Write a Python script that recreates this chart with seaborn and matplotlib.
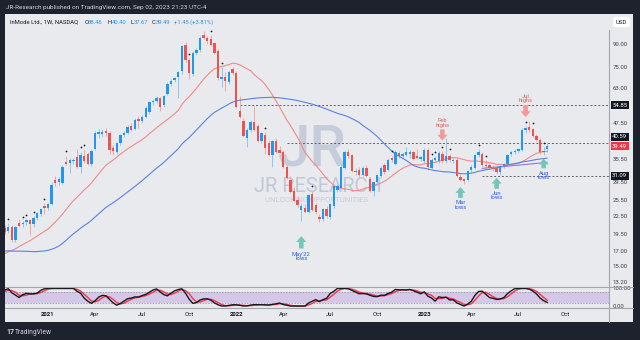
import matplotlib
matplotlib.use("Agg")
import matplotlib.pyplot as plt
from matplotlib.lines import Line2D
from matplotlib.patches import Rectangle
from matplotlib.ticker import NullLocator
import numpy as np
import pandas as pd
import seaborn as sns

# InMode (INMD) weekly bars, first visible bar = week of 2020-10-12
first_week = "2020-10-12"

opens = [20.4, 19.9, 20.6, 18.5, 21.3, 21.0, 21.5, 21.7, 21.0, 22.2, 22.9, 24.3, 24.0, 24.8, 30.0, 29.6,
         29.4, 34.8, 34.6, 35.0, 36.1, 33.4, 36.4, 37.0, 34.3, 38.5, 43.6, 43.6, 44.6, 43.9, 38.8, 37.6,
         40.6, 43.2, 43.9, 46.5, 45.3, 49.2, 48.4, 50.1, 52.0, 56.2, 57.0, 58.2, 54.8, 60.3, 65.2, 67.2,
         68.8, 72.5, 89.2, 79.0, 70.6, 84.0, 86.0, 96.8, 94.2, 93.7, 90.7, 85.0, 67.6, 68.8, 66.0, 73.3,
         71.2, 52.6, 48.5, 42.0, 45.1, 48.1, 46.5, 41.3, 43.2, 40.6, 36.8, 41.3, 38.4, 37.8, 33.4, 30.1,
         27.5, 25.6, 23.6, 24.0, 23.3, 26.8, 24.5, 22.3, 21.9, 23.8, 22.3, 24.4, 27.8, 28.2, 33.1, 37.8,
         36.9, 32.0, 32.7, 31.3, 33.1, 30.4, 27.5, 29.5, 31.0, 34.0, 32.7, 36.0, 34.3, 37.5, 36.6, 36.8,
         37.0, 37.6, 36.5, 35.6, 34.9, 38.4, 33.1, 35.4, 35.0, 37.2, 35.0, 36.6, 35.0, 35.4, 30.8, 30.2,
         30.1, 32.5, 33.1, 36.9, 37.2, 34.0, 33.8, 33.2, 33.0, 32.0, 33.6, 34.3, 37.0, 37.6, 38.0, 38.4,
         45.1, 46.0, 45.2, 42.9, 41.5, 37.6, 38.46]
highs = [20.9, 21.2, 20.9, 20.8, 22.0, 21.6, 21.9, 22.0, 22.4, 23.3, 24.0, 24.9, 25.0, 29.6, 31.0, 30.8,
         33.8, 36.6, 35.8, 35.9, 38.6, 37.8, 38.4, 37.6, 38.6, 44.6, 45.4, 45.2, 45.6, 44.5, 40.0, 40.9,
         43.6, 44.5, 46.8, 47.6, 49.6, 50.4, 50.8, 54.6, 56.8, 57.6, 59.0, 58.8, 59.6, 66.0, 67.6, 69.2,
         72.6, 89.6, 91.8, 80.2, 85.2, 86.8, 95.6, 99.6, 96.0, 96.4, 91.6, 86.2, 74.6, 71.6, 72.6, 74.6,
         72.4, 59.0, 49.6, 45.6, 48.6, 54.6, 47.2, 44.2, 44.2, 41.4, 41.6, 42.0, 39.6, 38.4, 34.0, 31.0,
         28.4, 26.4, 25.0, 24.8, 26.8, 27.6, 25.0, 22.8, 24.0, 24.4, 25.0, 28.8, 29.0, 33.8, 38.2, 38.6,
         37.2, 33.2, 33.4, 33.6, 33.8, 30.8, 29.8, 31.6, 33.6, 34.6, 35.8, 36.6, 38.2, 38.0, 37.6, 39.3,
         38.2, 38.0, 38.5, 36.6, 38.8, 38.8, 35.8, 36.4, 37.9, 38.0, 42.0, 37.2, 35.8, 35.8, 31.6, 30.6,
         32.6, 33.8, 37.2, 38.6, 37.8, 35.2, 34.6, 34.0, 33.6, 33.9, 34.6, 37.2, 38.0, 38.6, 39.0, 45.6,
         46.4, 48.3, 45.8, 43.4, 42.0, 39.2, 40.40]
lows = [19.4, 19.6, 18.2, 18.3, 20.5, 20.5, 20.9, 19.3, 20.6, 21.8, 22.5, 22.8, 23.5, 24.5, 28.6, 28.8,
        29.0, 33.8, 31.8, 34.2, 33.0, 31.8, 34.6, 33.8, 33.6, 38.2, 42.0, 42.5, 43.0, 37.0, 36.8, 37.0,
        40.0, 42.4, 43.4, 44.6, 45.0, 45.8, 47.6, 49.4, 51.2, 54.8, 56.0, 52.6, 54.0, 59.6, 64.0, 66.0,
        58.0, 70.4, 77.6, 68.0, 69.6, 82.6, 84.6, 93.4, 89.8, 88.6, 83.0, 67.2, 63.6, 61.6, 65.2, 70.2,
        53.8, 49.6, 42.6, 39.2, 44.2, 44.6, 40.8, 40.4, 37.0, 36.4, 33.4, 37.4, 37.0, 33.0, 30.2, 27.0,
        25.2, 24.2, 21.6, 23.0, 23.0, 23.4, 22.8, 21.4, 21.6, 22.2, 22.0, 24.0, 27.2, 28.0, 32.8, 36.0,
        32.0, 31.4, 30.8, 31.0, 30.8, 27.2, 26.4, 29.0, 30.6, 31.6, 32.2, 34.8, 34.0, 36.0, 36.0, 36.4,
        35.8, 35.2, 35.6, 35.0, 34.4, 32.6, 32.8, 34.8, 34.6, 34.6, 34.6, 34.8, 34.4, 30.8, 29.8, 29.0,
        29.8, 32.0, 32.8, 36.2, 33.6, 33.2, 32.8, 32.4, 31.6, 31.3, 33.0, 34.0, 36.4, 37.0, 37.4, 38.0,
        44.0, 44.2, 42.4, 41.0, 37.2, 36.8, 37.67]
closes = [19.7, 20.5, 18.5, 20.6, 20.8, 21.3, 21.8, 21.1, 22.1, 23.1, 23.8, 23.9, 24.8, 28.9, 29.4, 30.2,
          33.4, 34.2, 35.2, 35.4, 33.4, 36.9, 35.1, 34.3, 38.1, 43.9, 44.3, 44.2, 43.9, 38.4, 38.0, 40.6,
          43.2, 43.9, 46.1, 45.0, 48.9, 48.4, 50.1, 53.9, 56.2, 56.9, 58.4, 54.3, 59.0, 65.2, 66.9, 68.5,
          71.8, 88.6, 79.0, 71.0, 84.0, 85.5, 94.5, 94.5, 92.0, 89.3, 83.8, 68.5, 69.2, 67.0, 71.8, 71.2,
          54.3, 50.1, 43.0, 45.1, 48.1, 45.1, 41.3, 43.9, 39.0, 36.8, 41.0, 37.8, 37.5, 33.4, 30.5, 27.2,
          25.4, 24.6, 24.4, 23.3, 26.6, 23.6, 23.2, 21.9, 23.8, 22.5, 24.8, 28.6, 28.6, 33.4, 37.8, 36.6,
          32.3, 32.3, 31.3, 33.1, 31.0, 27.5, 29.5, 31.3, 33.1, 32.0, 35.4, 35.2, 37.8, 36.6, 37.0, 37.8,
          37.6, 35.6, 36.0, 36.2, 38.4, 33.4, 35.4, 36.0, 37.5, 35.0, 36.6, 35.2, 35.3, 31.1, 30.1, 29.8,
          32.3, 33.4, 36.9, 37.8, 34.0, 33.6, 33.2, 32.8, 32.0, 33.6, 34.3, 36.9, 37.6, 38.0, 38.6, 45.1,
          45.8, 44.8, 42.9, 41.5, 37.6, 38.04, 39.49]

# weekly closes before the visible window, only used to warm up the averages and the stoch RSI
pre_closes = [19.5, 20.0, 20.8, 21.2, 21.8, 22.2, 22.6, 23.0, 22.4, 22.0, 21.5, 21.0, 21.2, 19.8,
              17.0, 14.5, 11.5, 10.2, 11.0, 12.0, 12.8, 13.5, 14.0, 13.8, 14.6, 15.0, 14.2, 13.6,
              14.4, 15.2, 14.8, 15.2, 15.6, 15.0, 15.4, 16.0, 15.6, 15.2, 15.8, 16.4, 16.8, 17.2,
              17.6, 17.0, 17.4, 17.8, 17.2, 17.6, 18.0]

# 200-week average, only drawn by TradingView over the last bars
ma200_tail = [33.0, 33.1, 33.2, 33.3, 33.35, 33.45, 33.5, 33.6, 33.7, 33.8, 33.85, 33.95, 34.05,
              34.15, 34.25, 34.35, 34.45, 34.55, 34.65]

dot_bars = [1, 5, 6, 8, 11, 17, 21, 22, 51, 57, 60, 72, 85, 107, 118, 119, 121, 123, 131, 133, 144, 146, 149]

tick_dates = ["2021-01-04", "2021-04-05", "2021-07-05", "2021-10-04", "2022-01-03", "2022-04-04",
              "2022-07-04", "2022-10-03", "2023-01-02", "2023-04-03", "2023-07-03", "2023-10-02"]
tick_labels = ["2021", "Apr", "Jul", "Oct", "2022", "Apr", "Jul", "Oct", "2023", "Apr", "Jul", "Oct"]
price_ticks = [13.2, 15.0, 17.0, 19.5, 22.5, 25.5, 29.5, 35.5, 47.5, 63.0, 75.0, 90.0]

levels = [54.85, 40.59, 31.09]
level_starts = ["2022-01-10", "2022-04-11", "2023-04-24"]

sns.set_theme(style="white")
plt.rcParams["font.family"] = ["Roboto", "DejaVu Sans"]

BG = "#e9eaee"
DARK = "#1e222d"
TXT = "#131722"
UP = "#2196f3"
DOWN = "#ef5350"
AXC = "#a3a6af"

dates = pd.date_range(first_week, periods=len(closes), freq="7D")
pre_dates = pd.date_range(end=dates[0] - pd.Timedelta(days=7), periods=len(pre_closes), freq="7D")
close_all = pd.Series(pre_closes + closes, index=pre_dates.append(dates))

ma20 = close_all.rolling(20).mean().loc[dates]
ma50 = close_all.rolling(50).mean().loc[dates]

# stoch RSI 3,3,14,14
delta = close_all.diff()
gain = delta.clip(lower=0).ewm(alpha=1 / 14, adjust=False).mean()
loss = (-delta.clip(upper=0)).ewm(alpha=1 / 14, adjust=False).mean()
rsi = 100 - 100 / (1 + gain / loss)
stoch = 100 * (rsi - rsi.rolling(14).min()) / (rsi.rolling(14).max() - rsi.rolling(14).min())
k_all = stoch.rolling(3).mean()
d_all = k_all.rolling(3).mean()
k_line = k_all.loc[dates]
d_line = d_all.loc[dates]

o = np.array(opens)
h = np.array(highs)
l = np.array(lows)
c = np.array(closes)
rising = c >= o

fig = plt.figure(figsize=(6.4, 3.4), dpi=100, facecolor=DARK)
fig.patches.append(Rectangle((5 / 640, 18 / 340), 628 / 640, 308 / 340, transform=fig.transFigure,
                             fc=BG, ec="none", zorder=-5))
ax = fig.add_axes([5 / 640, 53 / 340, 604 / 640, 273 / 340])
ax2 = fig.add_axes([5 / 640, 32 / 340, 604 / 640, 21 / 340], sharex=ax)
for a in (ax, ax2):
    a.set_facecolor("none")
    for s in a.spines.values():
        s.set_visible(False)

xmin = pd.Timestamp("2020-10-12 18:00")
xmax = pd.Timestamp("2023-12-25 10:00")

# watermark
ax.text(312 / 640, 1 - 150 / 340, "JR", transform=fig.transFigure, ha="center", va="center",
        fontsize=42, fontweight="medium", color="#c6ccd9", zorder=0.5)
ax.text(318 / 640, 1 - 186 / 340, "JR RESEARCH", transform=fig.transFigure, ha="center", va="center",
        fontsize=14.5, color="#c1c7d6", zorder=0.5)
ax.text(317 / 640, 1 - 200 / 340, "UNLOCKING OPPORTUNITIES", transform=fig.transFigure, ha="center",
        va="center", fontsize=5.6, color="#c6ccd9", zorder=0.5)

# candles
ax.vlines(dates, l, h, colors=np.where(rising, "#8cc6f5", "#f4a6a4"), lw=0.7, zorder=2)
ax.bar(dates, np.maximum(np.abs(c - o), c * 0.006), bottom=np.minimum(o, c), width=4.6,
       color=np.where(rising, UP, DOWN), lw=0, zorder=3)
ax.scatter(dates[dot_bars], h[dot_bars] * 1.035, s=1.6, color=TXT, zorder=4, lw=0)

sns.lineplot(x=dates, y=ma20.values, ax=ax, color="#f08a8a", lw=0.8, zorder=2.5)
sns.lineplot(x=dates, y=ma50.values, ax=ax, color="#5b82e0", lw=0.8, zorder=2.5)
sns.lineplot(x=dates[-len(ma200_tail):], y=ma200_tail, ax=ax, color="#8f7cc6", lw=0.8, zorder=2.5)

for lvl, start in zip(levels, level_starts):
    ax.hlines(lvl, pd.Timestamp(start), xmax, colors="#5d606b", linestyles=(0, (2, 2)), lw=0.7, zorder=1)

# arrows and notes
teal = "#74c6b6"
pink = "#f29a9a"
low_blue = "#2f62e8"
high_red = "#e06060"
lows_notes = [("May'22\nlows", "2022-05-09", 19.1, 17.3, 16.2),
              ("Mar\nlows", "2023-03-13", 28.4, 26.0, 24.6),
              ("Jun\nlows", "2023-05-22", 30.6, 28.0, 26.5),
              ("Aug\nlows", "2023-08-21", 35.7, 33.0, 31.2)]
highs_notes = [("Feb\nhighs", "2023-02-06", 41.3, 45.2, 47.6),
               ("Jul\nhighs", "2023-07-17", 49.9, 55.0, 58.0)]
arrow_style = "simple,head_length=0.7,head_width=1.2,tail_width=0.55"
for label, day, tip, tail, ytxt in lows_notes:
    d = pd.Timestamp(day)
    ax.annotate("", xy=(d, tip), xytext=(d, tail),
                arrowprops=dict(arrowstyle=arrow_style, fc=teal, ec="none", mutation_scale=6,
                                shrinkA=0, shrinkB=0), zorder=5)
    ax.text(d, ytxt, label, ha="center", va="center", fontsize=4.2, color=low_blue,
            linespacing=0.85, zorder=5)
for label, day, tip, tail, ytxt in highs_notes:
    d = pd.Timestamp(day)
    ax.annotate("", xy=(d, tip), xytext=(d, tail),
                arrowprops=dict(arrowstyle=arrow_style, fc=pink, ec="none", mutation_scale=6,
                                shrinkA=0, shrinkB=0), zorder=5)
    ax.text(d, ytxt, label, ha="center", va="center", fontsize=4.2, color=high_red,
            linespacing=0.85, zorder=5)

ax.set_yscale("log")
ax.set_ylim(12.68, 114.6)
ax.set_xlim(xmin, xmax)
ax.yaxis.tick_right()
ax.set_yticks(price_ticks)
ax.set_yticklabels([f"{v:.2f}" for v in price_ticks])
ax.yaxis.set_minor_locator(NullLocator())
ax.tick_params(axis="y", labelsize=4.3, pad=2.6, length=0, labelcolor="#3b3e47")
ax.tick_params(axis="x", labelbottom=False, length=0)
ax.set_xlabel("")
ax.set_ylabel("")

for val, dy, fc in [(54.85, 0, TXT), (40.59, 4.3, TXT), (39.49, 0, "#f23645"), (31.09, 0, TXT)]:
    ax.annotate(f"{val:.2f}", xy=(1, val), xycoords=ax.get_yaxis_transform(), xytext=(2.3, dy),
                textcoords="offset points", ha="left", va="center", fontsize=4.3, color="white",
                bbox=dict(boxstyle="square,pad=0.25", fc=fc, ec="none"), annotation_clip=False, zorder=6)

# stoch RSI pane
ax2.axhspan(20, 80, color="#d4c7e7", lw=0, zorder=0.5)
ax2.axhline(80, color="#8a8d96", lw=0.5, ls=(0, (2, 2)), zorder=1)
ax2.axhline(20, color="#8a8d96", lw=0.5, ls=(0, (2, 2)), zorder=1)
sns.lineplot(x=dates, y=k_line.values, ax=ax2, color=TXT, lw=1.0, zorder=3)
sns.lineplot(x=dates, y=d_line.values, ax=ax2, color="#f23645", lw=1.0, zorder=2)
ax2.set_ylim(-11, 108)
ax2.yaxis.tick_right()
ax2.set_yticks([0, 100])
ax2.set_yticklabels(["0.00", "100.00"])
ax2.tick_params(axis="y", labelsize=4.3, pad=2.6, length=0, labelcolor="#3b3e47")
ax2.set_xticks(pd.to_datetime(tick_dates))
ax2.set_xticklabels(tick_labels)
ax2.tick_params(axis="x", labelsize=4.3, pad=2.8, length=0, labelcolor=TXT)
for lab in ax2.get_xticklabels():
    if lab.get_text().isdigit():
        lab.set_fontweight("bold")
ax2.set_xlabel("")
ax2.set_ylabel("")
ax2.set_xlim(xmin, xmax)

# frame lines
fig.add_artist(Line2D([609 / 640] * 2, [1 - 30 / 340, 1 - 322 / 340], color=AXC, lw=0.8))
for yy in (287, 308):
    fig.add_artist(Line2D([5 / 640, 633 / 640], [1 - yy / 340] * 2, color=AXC, lw=0.8))

# header texts
fig.text(6 / 640, 1 - 7 / 340, "JR-Research published on TradingView.com, Sep 02, 2023 21:23 UTC-4",
         fontsize=4.6, color="#d1d4dc", va="center", ha="left")
legend_parts = [("InMode Ltd., 1W, NASDAQ", 10, TXT), ("O", 84.5, TXT), ("38.46", 88, UP),
                ("H", 107.5, TXT), ("40.40", 111.5, UP), ("L", 130.5, TXT), ("37.67", 133.5, UP),
                ("C", 151.5, TXT), ("39.49", 155.5, UP), ("+1.45 (+3.81%)", 174, UP)]
for txt, xp, col in legend_parts:
    fig.text(xp / 640, 1 - 22 / 340, txt, fontsize=4.2, color=col, va="center", ha="left")
fig.text(621.5 / 640, 1 - 22 / 340, "USD", ha="center", va="center", fontsize=4.3, color=TXT,
         bbox=dict(boxstyle="round,pad=0.45,rounding_size=0.3", fc="white", ec="none"))

fig.text(6 / 640, 1 - 332 / 340, "17", fontsize=5, fontweight="bold", color="#d1d4dc", va="center")
fig.text(15 / 640, 1 - 332 / 340, "TradingView", fontsize=4.8, color="#d1d4dc", va="center")

fig.savefig("out.png", dpi=100, facecolor=fig.get_facecolor())
